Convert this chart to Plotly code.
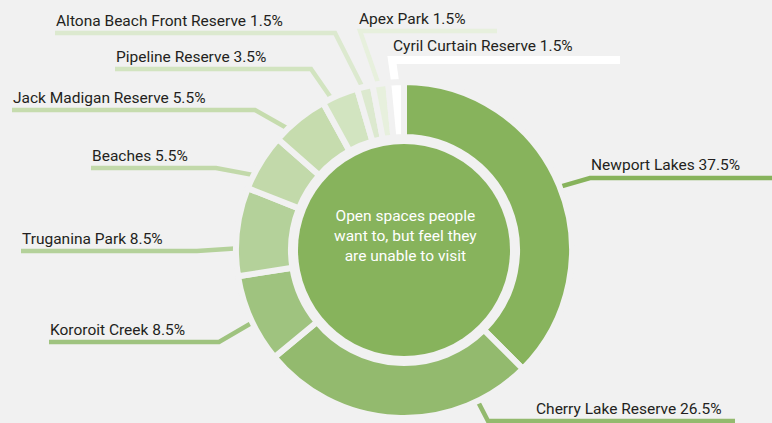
import math
import plotly.graph_objects as go

# ---- data -------------------------------------------------------------
spaces = [
    "Newport Lakes",
    "Cherry Lake Reserve",
    "Kororoit Creek",
    "Truganina Park",
    "Beaches",
    "Jack Madigan Reserve",
    "Pipeline Reserve",
    "Altona Beach Front Reserve",
    "Apex Park",
    "Cyril Curtain Reserve",
]
shares = [37.5, 26.5, 8.5, 8.5, 5.5, 5.5, 3.5, 1.5, 1.5, 1.5]
centre_text = "Open spaces people<br>want to, but feel they<br>are unable to visit"

# ---- style ------------------------------------------------------------
W, H = 772, 423
BG = "#f1f1f1"
slice_colors = [
    "#87b35c", "#93ba6e", "#9fc37f", "#b4d19a", "#c2d9aa",
    "#c6dcae", "#d2e4c0", "#dce9cf", "#e7f0dd", "#ffffff",
]
FONT = "Roboto, Liberation Sans, sans-serif"
FONT_SIZE = 15.5

CX, CY = 404, 250          # donut centre in pixels
R_PIE = 168                # pie radius (gap stroke trims ~3px)
R_HOLE = 113
R_CORE = 106               # filled centre disc
GAP = 6

# callout placement per slice: where on the slice (0..1 along its arc) the
# leader leaves, elbow point, far end of the underline, text position
callouts = [
    dict(at=0.50, elbow=(590, 178), end=772, tx=589, ty=165, w=4.5),
    dict(at=0.20, elbow=(488, 421), end=735, tx=534, ty=409, w=4.5),
    dict(at=0.47, elbow=(219, 342), end=49, tx=48, ty=330, w=4.5),
    dict(at=0.32, elbow=(197, 251), end=21, tx=20, ty=239, w=4.5),
    dict(at=0.30, elbow=(216, 168), end=91, tx=90, ty=156, w=4.5),
    dict(at=0.30, elbow=(255, 110), end=12, tx=11, ty=98, w=4.5),
    dict(at=0.30, elbow=(311, 69), end=115, tx=114, ty=57, w=4.5),
    dict(at=0.50, elbow=(335, 33), end=55, tx=54, ty=21, w=4.5),
    dict(at=0.50, elbow=(360, 31), end=497, tx=357, ty=19, w=4.5),
    dict(at=0.50, elbow=(392, 60), end=620, tx=391, ty=46, w=8),
]


def fmt(v):
    return f"{v:g}%"


def domain_for(radius):
    return dict(
        x=[(CX - radius) / W, (CX + radius) / W],
        y=[1 - (CY + radius) / H, 1 - (CY - radius) / H],
    )


fig = go.Figure()

# leader lines (drawn on a pixel-scaled cartesian layer beneath the pies)
total = sum(shares)
cum = 0.0
annotations = []
for name, v, col, c in zip(spaces, shares, slice_colors, callouts):
    frac = (cum + c["at"] * v) / total
    cum += v
    ang = 2 * math.pi * frac          # clockwise from 12 o'clock
    r0 = R_PIE - 10
    ax = CX + r0 * math.sin(ang)
    ay = CY - r0 * math.cos(ang)
    ex, ey = c["elbow"]
    fig.add_trace(go.Scatter(
        x=[ax, ex, c["end"]], y=[ay, ey, ey],
        mode="lines", line=dict(color=col, width=c["w"]),
        hoverinfo="skip", showlegend=False,
    ))
    annotations.append(dict(
        x=c["tx"], y=c["ty"], xref="x", yref="y",
        text=f"{name} {fmt(v)}", showarrow=False,
        xanchor="left", yanchor="middle",
        font=dict(family=FONT, size=FONT_SIZE, color="#231f20"),
    ))

# outer ring of slices
fig.add_trace(go.Pie(
    labels=spaces, values=shares, sort=False, direction="clockwise",
    rotation=0, hole=R_HOLE / R_PIE,
    marker=dict(colors=slice_colors, line=dict(color=BG, width=GAP)),
    textinfo="none", hoverinfo="label+percent", showlegend=False,
    domain=domain_for(R_PIE),
))

# filled centre disc
fig.add_trace(go.Pie(
    labels=["centre"], values=[1], sort=False, hole=0,
    marker=dict(colors=[slice_colors[0]], line=dict(width=0)),
    textinfo="none", hoverinfo="skip", showlegend=False,
    domain=domain_for(R_CORE),
))

annotations.append(dict(
    x=CX + 1, y=CY - 14, xref="x", yref="y", text=centre_text,
    showarrow=False, xanchor="center", yanchor="middle", align="center",
    font=dict(family=FONT, size=FONT_SIZE, color="#ffffff"),
))

fig.update_layout(
    width=W, height=H,
    margin=dict(l=0, r=0, t=0, b=0),
    paper_bgcolor=BG, plot_bgcolor=BG,
    xaxis=dict(range=[0, W], visible=False, fixedrange=True, domain=[0, 1]),
    yaxis=dict(range=[H, 0], visible=False, fixedrange=True, domain=[0, 1]),
    annotations=annotations,
)

fig.write_html("out.html")
